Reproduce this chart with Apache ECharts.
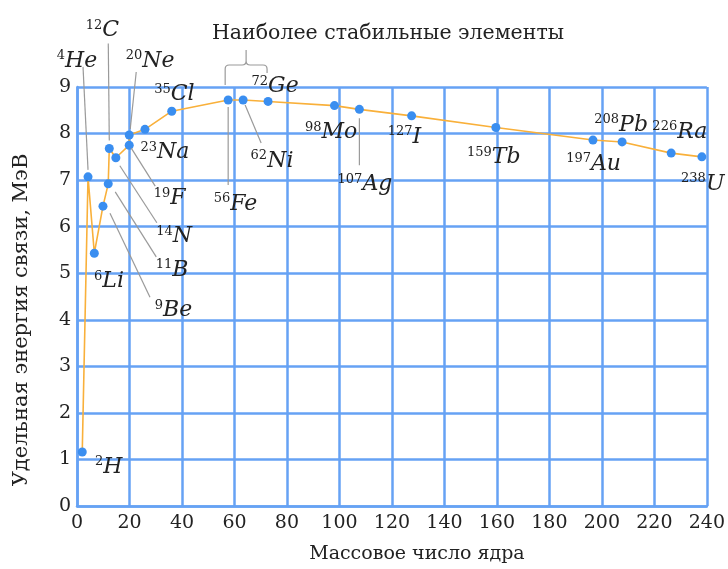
<!DOCTYPE html>
<html><head><meta charset="utf-8">
<script src="https://cdn.jsdelivr.net/npm/echarts@6/dist/echarts.min.js"></script>
<style>html,body{margin:0;padding:0;background:#fff}#c{width:728px;height:569px}</style>
</head><body><div id="c"></div>
<script>
// ---- data ----
const massNumbers = ['2','4','6','9','11','12','14','19','20','23','35','56','62','72','98','107','127','159','197','208','226','238'];
const symbols = ['H','He','Li','Be','B','C','N','F','Ne','Na','Cl','Fe','Ni','Ge','Mo','Ag','I','Tb','Au','Pb','Ra','U'];
const plotX = [2,4.2,6.6,9.9,11.9,12.3,14.8,19.9,19.9,25.9,36.1,57.6,63.3,72.8,98.1,107.6,127.5,159.6,196.6,207.7,226.4,238.1];
const bindingEnergy = [1.16,7.07,5.43,6.44,6.92,7.68,7.48,7.75,7.97,8.09,8.48,8.72,8.72,8.69,8.60,8.52,8.38,8.13,7.86,7.82,7.58,7.50];
const xTicks = [0,20,40,60,80,100,120,140,160,180,200,220,240];
const yTicks = [0,1,2,3,4,5,6,7,8,9];
const titleText = 'Наиболее стабильные элементы';
const xName = 'Массовое число ядра';
const yName = 'Удельная энергия связи, МэВ';

// ---- label placement (pixel offsets from the point: junction of superscript/symbol, optional leader) ----
const labelStyle = {
  H:[21,15,null], He:[-23,-116,[0,-7,-5,-110]], Li:[8,28,null], Be:[60,104,[7,7,47,91]],
  B:[64,86,[7,8,48,73]], C:[-7,-118,[0,-8,-1,-105]], N:[57,79,[4,8,41,65]], F:[41,53,[2,3,26,41]],
  Ne:[13,-74,[1,-6,7,-63]], Na:[12,23,null], Cl:[-1,-17,null], Fe:[2,104,[0,7,0,85]],
  Ni:[24,61,[2,5,18,43]], Ge:[0,-15,null], Mo:[-13,27,null], Ag:[3,75,[0,9,0,56]],
  I:[1,21,null], Tb:[-4,30,null], Au:[-2,24,null], Pb:[-3,-17,null], Ra:[6,-21,null], U:[4,27,null]
};
const SERIF = '"DejaVu Serif", "Liberation Serif", serif';
const textColor = '#222';
const gridColor = '#66a2f4';

const pts = plotX.map((x,i)=>[x, bindingEnergy[i], i]);
const feIdx = symbols.indexOf('Fe'), geIdx = symbols.indexOf('Ge');

const chart = echarts.init(document.getElementById('c'), null, {renderer:'canvas'});
chart.setOption({
  animation:false,
  backgroundColor:'#fff',
  title:{text:titleText, left:383, top:18, textAlign:'center',
    textStyle:{fontFamily:SERIF, fontSize:20.5, fontWeight:'normal', color:textColor}},
  graphic:[{type:'text', x:22, y:320, rotation:Math.PI/2,
    style:{text:yName, font:'21px '+SERIF, fill:textColor, align:'center', verticalAlign:'middle',
      textAlign:'center', textVerticalAlign:'middle'}}],
  grid:{left:77, right:20, top:87, bottom:63, containLabel:false},
  xAxis:{type:'value', min:0, max:240, interval:20,
    name:xName, nameLocation:'middle', nameGap:39,
    nameTextStyle:{fontFamily:SERIF, fontSize:19, color:textColor, padding:[0,0,0,50]},
    axisLine:{show:true, lineStyle:{color:gridColor, width:2.5}},
    axisTick:{show:false},
    axisLabel:{fontFamily:SERIF, fontSize:19, color:textColor, margin:8,
      formatter:v=>xTicks.includes(v)?String(v):''},
    splitLine:{show:true, lineStyle:{color:gridColor, width:2.5}}},
  yAxis:{type:'value', min:0, max:9, interval:1,
    axisLine:{show:true, lineStyle:{color:gridColor, width:2.5}},
    axisTick:{show:false},
    axisLabel:{fontFamily:SERIF, fontSize:19, color:textColor, margin:6,
      formatter:v=>yTicks.includes(v)?String(v):''},
    splitLine:{show:true, lineStyle:{color:gridColor, width:2.5}}},
  series:[
    {type:'line', data:pts, symbol:'circle', symbolSize:9, z:3,
     lineStyle:{color:'#f9b03a', width:1.6},
     itemStyle:{color:'#3a8ef0'}},
    {type:'custom', data:pts, clip:false, z:4, silent:true,
     renderItem:(params, api)=>{
       const i = api.value(2);
       const p = api.coord([api.value(0), api.value(1)]);
       const sym = symbols[i], cfg = labelStyle[sym];
       const jx = p[0]+cfg[0], jy = p[1]+cfg[1];
       const children = [];
       if (cfg[2]) {
         const L = cfg[2];
         children.push({type:'line', shape:{x1:p[0]+L[0], y1:p[1]+L[1], x2:p[0]+L[2], y2:p[1]+L[3]},
           style:{stroke:'#9a9a9a', lineWidth:1.2}});
       }
       children.push({type:'text', x:jx, y:jy-5,
         style:{text:massNumbers[i], font:'13px '+SERIF, fill:textColor, align:'right', verticalAlign:'middle',
           textAlign:'right', textVerticalAlign:'middle'}});
       children.push({type:'text', x:jx, y:jy,
         style:{text:sym, font:'italic 22px '+SERIF, fill:textColor, align:'left', verticalAlign:'middle',
           textAlign:'left', textVerticalAlign:'middle'}});
       if (i === feIdx) {
         const g = api.coord([plotX[geIdx], bindingEnergy[geIdx]]);
         const top = api.coord([0,9])[1];
         const lx = p[0]-3, rx = g[0]-1, cx = (lx+rx)/2, hy = top-22;
         const d = `M${lx},${top-2} L${lx},${hy+4} Q${lx},${hy} ${lx+4},${hy} L${cx-4},${hy} Q${cx},${hy} ${cx},${hy-4} L${cx},${top-37}`+
                   ` M${cx},${hy-4} Q${cx},${hy} ${cx+4},${hy} L${rx-4},${hy} Q${rx},${hy} ${rx},${hy+4} L${rx},${top-14}`;
         children.push({type:'path', shape:{pathData:d}, style:{stroke:'#9a9a9a', lineWidth:1.2, fill:null}});
       }
       return {type:'group', children};
     }}
  ]
});
</script></body></html>
